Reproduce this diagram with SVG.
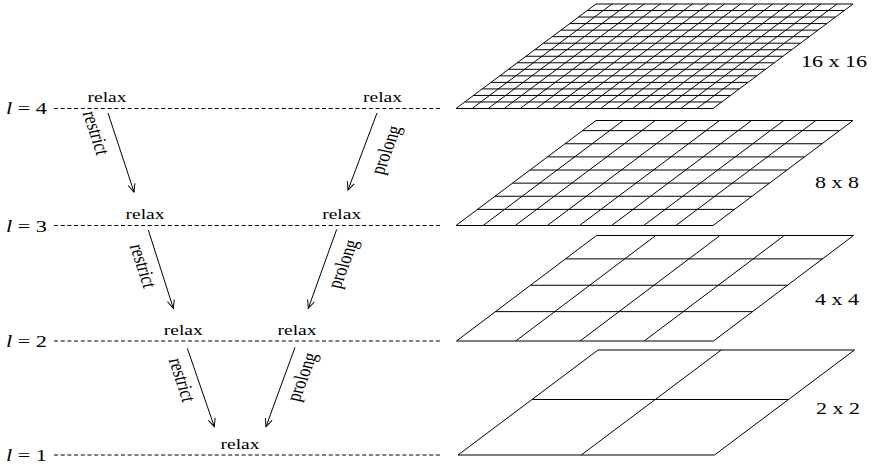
<svg xmlns="http://www.w3.org/2000/svg" width="872" height="467" viewBox="0 0 872 467">
  <style>
    .txt { font-family: "Liberation Serif", "Times New Roman", serif; fill: #000; }
    .lvl { font-size: 17px; }
    .relax { font-size: 15px; text-anchor: middle; }
    .op { font-size: 16px; text-anchor: middle; }
    .size { font-size: 17px; }
    .level { stroke: #000; stroke-width: 1; stroke-dasharray: 4 2.7; fill: none; }
    .grid { stroke: #000; stroke-width: 1; fill: none; stroke-linejoin: miter; }
    .arrow { stroke: #000; stroke-width: 1; fill: none; marker-end: url(#head); }
  </style>
  <defs>
    <marker id="head" markerUnits="userSpaceOnUse" markerWidth="12" markerHeight="12" viewBox="-10 -6 12 12" refX="0" refY="0" orient="auto">
      <path d="M-8,-3.6 L0,0 L-8,3.6" fill="none" stroke="#000" stroke-width="1"/>
    </marker>
  </defs>

  <rect width="872" height="467" fill="#fff"/>

  <!-- level lines with their labels -->
  <g id="level4">
    <text class="txt lvl" x="6" y="114" textLength="41" lengthAdjust="spacingAndGlyphs"><tspan font-style="italic">l</tspan> = 4</text>
    <line class="level" x1="54" y1="108.5" x2="440" y2="108.5"/>
    <text class="txt relax" x="107" y="101.5" textLength="39" lengthAdjust="spacingAndGlyphs">relax</text>
    <text class="txt relax" x="382.5" y="101.5" textLength="39" lengthAdjust="spacingAndGlyphs">relax</text>
  </g>
  <g id="level3">
    <text class="txt lvl" x="6" y="231.5" textLength="41" lengthAdjust="spacingAndGlyphs"><tspan font-style="italic">l</tspan> = 3</text>
    <line class="level" x1="54" y1="225.5" x2="440" y2="225.5"/>
    <text class="txt relax" x="145" y="219" textLength="39" lengthAdjust="spacingAndGlyphs">relax</text>
    <text class="txt relax" x="341.7" y="219" textLength="39" lengthAdjust="spacingAndGlyphs">relax</text>
  </g>
  <g id="level2">
    <text class="txt lvl" x="6" y="347" textLength="41" lengthAdjust="spacingAndGlyphs"><tspan font-style="italic">l</tspan> = 2</text>
    <line class="level" x1="54" y1="341" x2="440" y2="341"/>
    <text class="txt relax" x="183.3" y="334.5" textLength="39" lengthAdjust="spacingAndGlyphs">relax</text>
    <text class="txt relax" x="297" y="334.5" textLength="39" lengthAdjust="spacingAndGlyphs">relax</text>
  </g>
  <g id="level1">
    <text class="txt lvl" x="6" y="461" textLength="41" lengthAdjust="spacingAndGlyphs"><tspan font-style="italic">l</tspan> = 1</text>
    <line class="level" x1="54" y1="455" x2="440" y2="455"/>
    <text class="txt relax" x="240" y="448.5" textLength="39" lengthAdjust="spacingAndGlyphs">relax</text>
  </g>

  <!-- restrict / prolong transfers -->
  <g id="connectors">
    <line class="arrow" x1="108" y1="113" x2="134" y2="192"/>
    <line class="arrow" x1="377" y1="113" x2="348" y2="190"/>
    <line class="arrow" x1="148.3" y1="230" x2="173.3" y2="308.3"/>
    <line class="arrow" x1="336.7" y1="229.3" x2="308.3" y2="308.3"/>
    <line class="arrow" x1="187.3" y1="348.3" x2="214.3" y2="426.7"/>
    <line class="arrow" x1="295" y1="347.3" x2="266" y2="426.7"/>

    <text class="txt op" transform="translate(96,133) scale(1.3,1) rotate(75.8)" dy="5">restrict</text>
    <text class="txt op" transform="translate(143,266) scale(1.3,1) rotate(75.8)" dy="5">restrict</text>
    <text class="txt op" transform="translate(182,380) scale(1.3,1) rotate(75.8)" dy="5">restrict</text>
    <text class="txt op" transform="translate(386,150) scale(1.3,1) rotate(-73.8)" dy="5">prolong</text>
    <text class="txt op" transform="translate(343,264) scale(1.3,1) rotate(-73.8)" dy="5">prolong</text>
    <text class="txt op" transform="translate(302,377) scale(1.3,1) rotate(-73.8)" dy="5">prolong</text>
  </g>

  <!-- 16 x 16 grid -->
  <g id="grid16">
    <path class="grid" d="M456,108.5 L713,108.5 L853,4 L596,4 Z"/>
    <path class="grid" d="
      M464.75,101.97 H721.75 M473.5,95.44 H730.5 M482.25,88.91 H739.25 M491,82.38 H748
      M499.75,75.84 H756.75 M508.5,69.31 H765.5 M517.25,62.78 H774.25 M526,56.25 H783
      M534.75,49.72 H791.75 M543.5,43.19 H800.5 M552.25,36.66 H809.25 M561,30.13 H818
      M569.75,23.59 H826.75 M578.5,17.06 H835.5 M587.25,10.53 H844.25
      M472.06,108.5 L612.06,4 M488.13,108.5 L628.13,4 M504.19,108.5 L644.19,4
      M520.25,108.5 L660.25,4 M536.31,108.5 L676.31,4 M552.38,108.5 L692.38,4
      M568.44,108.5 L708.44,4 M584.5,108.5 L724.5,4 M600.56,108.5 L740.56,4
      M616.63,108.5 L756.63,4 M632.69,108.5 L772.69,4 M648.75,108.5 L788.75,4
      M664.81,108.5 L804.81,4 M680.88,108.5 L820.88,4 M696.94,108.5 L836.94,4"/>
    <text class="txt size" x="801" y="66.5" textLength="66" lengthAdjust="spacingAndGlyphs">16 x 16</text>
  </g>

  <!-- 8 x 8 grid -->
  <g id="grid8">
    <path class="grid" d="M456,225.5 L713,225.5 L853,120.5 L596,120.5 Z"/>
    <path class="grid" d="
      M477.5,209.38 H734.5 M495,196.25 H752 M512.5,183.13 H769.5 M530,170 H787
      M547.5,156.88 H804.5 M565,143.75 H822 M582.5,130.63 H839.5
      M483.13,225.5 L623.13,120.5 M515.25,225.5 L655.25,120.5 M547.38,225.5 L687.38,120.5
      M579.5,225.5 L719.5,120.5 M611.63,225.5 L751.63,120.5 M643.75,225.5 L783.75,120.5
      M675.88,225.5 L815.88,120.5"/>
    <text class="txt size" x="815" y="188" textLength="44" lengthAdjust="spacingAndGlyphs">8 x 8</text>
  </g>

  <!-- 4 x 4 grid -->
  <g id="grid4">
    <path class="grid" d="M456.5,341 L713.5,341 L853.5,235.5 L596.5,235.5 Z"/>
    <path class="grid" d="
      M495.5,311.63 H752.5 M530.5,285.25 H787.5 M565.5,258.88 H822.5
      M515.75,341 L655.75,235.5 M580,341 L720,235.5 M644.25,341 L784.25,235.5"/>
    <text class="txt size" x="815" y="305" textLength="44" lengthAdjust="spacingAndGlyphs">4 x 4</text>
  </g>

  <!-- 2 x 2 grid -->
  <g id="grid2">
    <path class="grid" d="M458,455 L714.5,455 L854.5,350 L598,350 Z"/>
    <path class="grid" d="M532,399.5 H788.5 M581.25,455 L721.25,350"/>
    <text class="txt size" x="816" y="414" textLength="44" lengthAdjust="spacingAndGlyphs">2 x 2</text>
  </g>
</svg>
